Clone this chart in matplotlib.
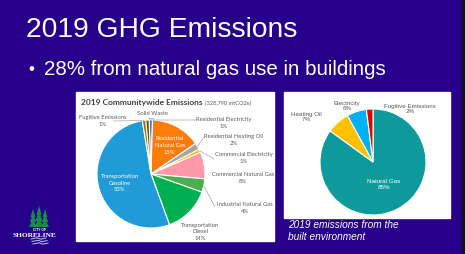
import numpy as np
import matplotlib
matplotlib.use("Agg")
import matplotlib.pyplot as plt
from matplotlib.patches import Rectangle, Polygon

W, H = 465, 255
BG = "#26008a"
LABEL_GREY = "#595959"

# left chart: community-wide emissions, clockwise from 12 o'clock
comm_labels = ["Residential Electricity", "Residential Natural Gas", "Residential Heating Oil",
               "Commercial Electricity", "Commercial Natural Gas", "Industrial Natural Gas",
               "Transportation Diesel", "Transportation Gasoline", "Fugitive Emissions", "Solid Waste"]
comm_pct = [1, 15, 2, 1, 8, 4, 14, 53, 1, 1]
comm_colors = ["#4472c4", "#ff7c0a", "#a5a5a5", "#ffc000", "#ff99aa", "#4cae4c",
               "#00b050", "#1f9bd7", "#9e6b10", "#6b5200"]
comm_total = "(328,790 mtCO2e)"

# right chart: built environment, clockwise from 12 o'clock
bldg_labels = ["Natural Gas", "Heating Oil", "Electricity", "Fugitive Emissions"]
bldg_pct = [85, 7, 6, 2]
bldg_colors = ["#0e9a9a", "#ffc000", "#00b0f0", "#e00000"]

fig = plt.figure(figsize=(W / 100, H / 100), dpi=100, facecolor=BG)
bg = fig.add_axes([0, 0, 1, 1])
bg.set_xlim(0, W)
bg.set_ylim(H, 0)
bg.axis("off")
bg.set_facecolor(BG)

# slide frame
bg.add_patch(Rectangle((462, 0), 3, H, color="#111111", zorder=0))
bg.add_patch(Rectangle((76, 93), 198, 149, color="white", zorder=1))
bg.add_patch(Rectangle((284, 93), 166, 126, color="white", zorder=1))

bg.text(26, 30, "2019 GHG Emissions", color="white", fontsize=20.3,
        family="Liberation Sans", va="center", ha="left")
bg.text(28, 70, "\u2022", color="white", fontsize=12, family="Liberation Sans", va="center")
bg.text(44, 70, "28% from natural gas use in buildings", color="white", fontsize=14.8,
        family="Liberation Sans", va="center", ha="left")


def pie_axes(cx, cy, r):
    return fig.add_axes([(cx - r) / W, 1 - (cy + r) / H, 2 * r / W, 2 * r / H])


def anchor(w, frac=1.0):
    a = np.deg2rad((w.theta1 + w.theta2) / 2)
    return frac * np.cos(a), frac * np.sin(a)


# ---- left pie
ax1 = pie_axes(151, 175, 54)
w1, _ = ax1.pie(comm_pct, colors=comm_colors, startangle=92, counterclock=False,
                wedgeprops=dict(edgecolor="white", linewidth=0.8))
ax1.set_xlim(-1, 1)
ax1.set_ylim(-1, 1)
ax1.axis("off")

bg.text(81, 103, "2019 Communitywide Emissions", fontsize=6, fontweight="bold",
        color="#404040", family="Lato", va="center")
bg.text(205, 103.5, comm_total, fontsize=4.1, color=LABEL_GREY, family="Lato", va="center")

lab_kw = dict(fontsize=4.2, color=LABEL_GREY, family="Lato", ha="center", va="center",
              linespacing=1.45)
# label text positions (pixels) and leader line ends
comm_pos = {
    "Fugitive Emissions": ((103, 121), (113, 122)),
    "Solid Waste": ((152, 117), None),
    "Residential Electricity": ((224, 123), (196, 121)),
    "Residential Heating Oil": ((234, 140), (205, 137)),
    "Commercial Electricity": ((244, 158), (214, 160)),
    "Commercial Natural Gas": ((243, 178), None),
    "Industrial Natural Gas": ((245, 208), (215, 208)),
    "Transportation Diesel": ((200, 232), None),
}
for w, lab, p in zip(w1, comm_labels, comm_pct):
    if lab in comm_pos:
        (tx, ty), line_end = comm_pos[lab]
        name = "Transportation\nDiesel" if lab == "Transportation Diesel" else lab
        bg.text(tx, ty, f"{name}\n{p}%", zorder=5, **lab_kw)
        if line_end is not None:
            ax1.annotate("", xy=anchor(w), xycoords="data", xytext=line_end,
                         textcoords=bg.transData,
                         arrowprops=dict(arrowstyle="-", color="#a6a6a6", lw=0.5,
                                         shrinkA=0, shrinkB=0))
    elif lab == "Transportation Gasoline":
        x, y = anchor(w, 0.6)
        ax1.text(x, y, f"Transportation\nGasoline\n{p}%", fontsize=4.2, color="white",
                 family="Lato", ha="center", va="center", linespacing=1.45)
    elif lab == "Residential Natural Gas":
        x, y = anchor(w, 0.6)
        ax1.text(x + 0.06, y + 0.02, f"Residential\nNatural Gas\n{p}%", fontsize=4.2,
                 color="white", family="Lato", ha="center", va="center", linespacing=1.45)

# ---- right pie
ax2 = pie_axes(373, 163, 53)
w2, _ = ax2.pie(bldg_pct, colors=bldg_colors, startangle=90, counterclock=False,
                wedgeprops=dict(edgecolor="white", linewidth=0.8))
ax2.set_xlim(-1, 1)
ax2.set_ylim(-1, 1)
ax2.axis("off")

bldg_pos = {"Heating Oil": (306, 117), "Electricity": (347, 106),
            "Fugitive Emissions": (410, 109)}
for w, lab, p in zip(w2, bldg_labels, bldg_pct):
    if lab in bldg_pos:
        tx, ty = bldg_pos[lab]
        bg.text(tx, ty, f"{lab}\n{p}%", fontsize=4.5, color=LABEL_GREY,
                family="Liberation Sans", ha="center", va="center", zorder=5)
    else:
        x, y = anchor(w, 0.46)
        ax2.text(x, y, f"{lab}\n{p}%", fontsize=4.5, color="white",
                 family="Liberation Sans", ha="center", va="center")

bg.text(288, 231, "2019 emissions from the\nbuilt environment", color="white",
        fontsize=7.3, style="italic", family="Liberation Sans", va="center", ha="left",
        linespacing=1.3)

# ---- city logo
tree_green = "#178a50"
for tx, th, tw in [(33, 16, 8), (39, 19, 9), (45, 16, 8)]:
    base = 228
    for k in range(3):
        y0 = base - k * th / 3.2
        bg.add_patch(Polygon([(tx - tw / 2 * (1 - k * 0.2), y0), (tx + tw / 2 * (1 - k * 0.2), y0),
                              (tx, y0 - th / 2)], closed=True, color=tree_green, lw=0))
bg.text(39, 230, "CITY OF", color="white", fontsize=2.3, ha="center", va="center",
        family="Liberation Sans", fontweight="bold")
bg.text(34, 235.5, "SHORELINE", color="white", fontsize=5.3, ha="center", va="center",
        family="Liberation Serif", fontweight="bold")
for i, yy in enumerate([240, 242.5, 245]):
    bg.plot([31 + i, 37 + i, 41 + i, 46 + i], [yy, yy - 1.2, yy + 0.2, yy - 1], color="#b8c8e8",
            lw=0.7)

fig.savefig("out.png", dpi=100, facecolor=BG)
